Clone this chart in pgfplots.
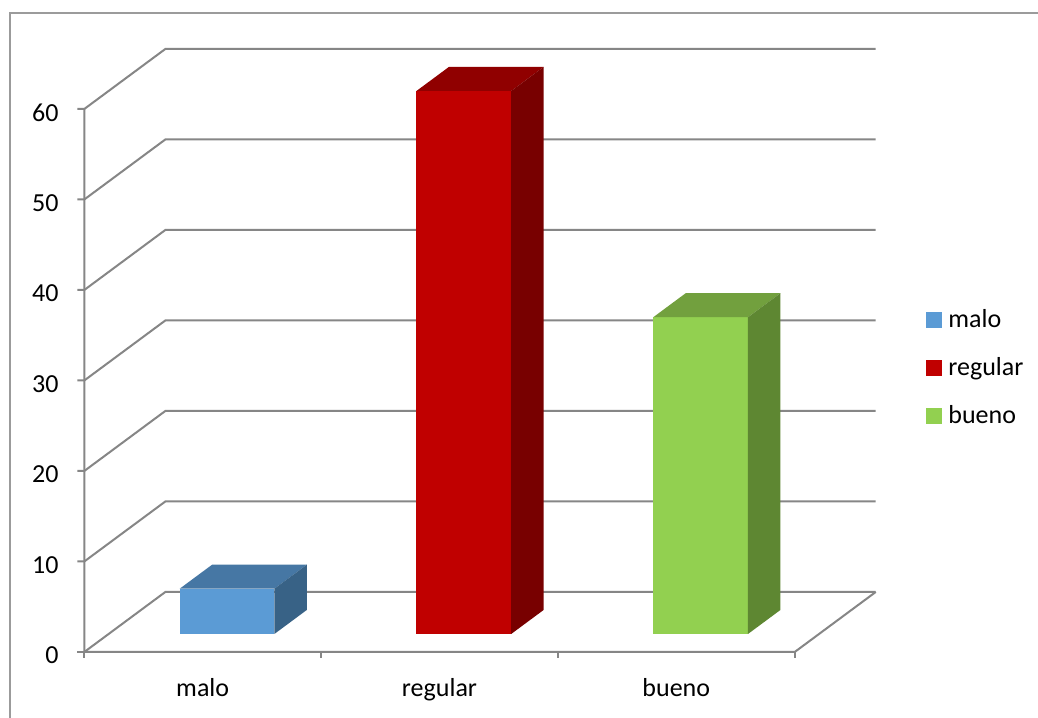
\documentclass[border=0pt]{standalone}
\usepackage{pgfplots}
\pgfplotsset{compat=1.18}
\usepackage{fontspec}
\setmainfont{Carlito}

\definecolor{gridgray}{RGB}{134,134,134}
\definecolor{framegray}{RGB}{155,155,155}
\definecolor{maloF}{RGB}{91,155,213}
\definecolor{maloT}{RGB}{70,119,164}
\definecolor{maloS}{RGB}{56,98,134}
\definecolor{regF}{RGB}{192,0,0}
\definecolor{regT}{RGB}{144,0,0}
\definecolor{regS}{RGB}{120,0,0}
\definecolor{buenoF}{RGB}{146,208,80}
\definecolor{buenoT}{RGB}{114,160,62}
\definecolor{buenoS}{RGB}{94,135,50}

\begin{document}
\begin{tikzpicture}
\useasboundingbox (-101.35pt,-32.5pt) rectangle (417.65pt,326pt);
\fill[white] (-101.35pt,-32.5pt) rectangle (417.65pt,326pt);
% chart area frame
\draw[framegray, line width=1pt] (-96.35pt,-40pt) -- (-96.35pt,319.5pt) -- (430pt,319.5pt);
\begin{axis}[
  at={(0pt,0pt)}, anchor=origin,
  % oblique projection: x = category, y = depth, z = value
  x={(118.4pt,0pt)}, y={(40.5pt,30pt)}, z={(0pt,4.525pt)},
  xmin=-0.5, xmax=2.5, ymin=0, ymax=1, zmin=0, zmax=60,
  hide axis, clip=false,
  font=\fontsize{13pt}{15pt}\selectfont,
  legend style={at={(axis cs:3.0545,0,37.87)}, anchor=north west,
    draw=none, fill=none, inner sep=0pt, outer sep=0pt,
    row sep=12.15pt, column sep=3.3pt,
    font=\fontsize{13pt}{15pt}\selectfont,
    nodes={inner sep=0pt, text height=9pt, text depth=3pt, anchor=base west}},
  grid line/.style={gridgray, line width=1pt, forget plot},
]
% walls: left-wall diagonals, back-wall gridlines and y ticks
\addplot3[grid line] coordinates {(-0.5296,0,10) (-0.5,0,10) (-0.5,1,10) (2.5,1,10)};
\addplot3[grid line] coordinates {(-0.5296,0,20) (-0.5,0,20) (-0.5,1,20) (2.5,1,20)};
\addplot3[grid line] coordinates {(-0.5296,0,30) (-0.5,0,30) (-0.5,1,30) (2.5,1,30)};
\addplot3[grid line] coordinates {(-0.5296,0,40) (-0.5,0,40) (-0.5,1,40) (2.5,1,40)};
\addplot3[grid line] coordinates {(-0.5296,0,50) (-0.5,0,50) (-0.5,1,50) (2.5,1,50)};
\addplot3[grid line] coordinates {(-0.5296,0,60) (-0.5,0,60) (-0.5,1,60) (2.5,1,60)};
\addplot3[grid line] coordinates {(-0.5,0,0) (-0.5,1,0) (2.5,1,0)};
% front axis and floor
\addplot3[grid line] coordinates {(-0.5,0,60) (-0.5,0,0) (2.5,0,0) (2.5,1,0)};
\addplot3[grid line] coordinates {(-0.5296,0,0) (-0.5,0,0)};
\addplot3[grid line] coordinates {(-0.5,0,0) (-0.5,0,-0.663)};
\addplot3[grid line] coordinates {(0.5,0,0) (0.5,0,-0.663)};
\addplot3[grid line] coordinates {(1.5,0,0) (1.5,0,-0.663)};
\addplot3[grid line] coordinates {(2.5,0,0) (2.5,0,-0.663)};

% malo = 5
\addplot3[fill=maloF, draw=none, forget plot] coordinates {(-0.2,0.3,0) (0.2,0.3,0) (0.2,0.3,5) (-0.2,0.3,5)} -- cycle;
\addplot3[fill=maloT, draw=none, forget plot] coordinates {(-0.2,0.3,5) (0.2,0.3,5) (0.2,0.7,5) (-0.2,0.7,5)} -- cycle;
\addplot3[fill=maloS, draw=none, forget plot] coordinates {(0.2,0.3,0) (0.2,0.7,0) (0.2,0.7,5) (0.2,0.3,5)} -- cycle;
% regular = 60
\addplot3[fill=regF, draw=none, forget plot] coordinates {(0.8,0.3,0) (1.2,0.3,0) (1.2,0.3,60) (0.8,0.3,60)} -- cycle;
\addplot3[fill=regT, draw=none, forget plot] coordinates {(0.8,0.3,60) (1.2,0.3,60) (1.2,0.7,60) (0.8,0.7,60)} -- cycle;
\addplot3[fill=regS, draw=none, forget plot] coordinates {(1.2,0.3,0) (1.2,0.7,0) (1.2,0.7,60) (1.2,0.3,60)} -- cycle;
% bueno = 35
\addplot3[fill=buenoF, draw=none, forget plot] coordinates {(1.8,0.3,0) (2.2,0.3,0) (2.2,0.3,35) (1.8,0.3,35)} -- cycle;
\addplot3[fill=buenoT, draw=none, forget plot] coordinates {(1.8,0.3,35) (2.2,0.3,35) (2.2,0.7,35) (1.8,0.7,35)} -- cycle;
\addplot3[fill=buenoS, draw=none, forget plot] coordinates {(2.2,0.3,0) (2.2,0.7,0) (2.2,0.7,35) (2.2,0.3,35)} -- cycle;

% value axis labels
\foreach \v in {0,10,20,30,40,50,60} {
  \edef\tmp{\noexpand\node[anchor=east, inner sep=0pt, xshift=-12.65pt, yshift=-1.75pt]
    at (axis cs:-0.5,0,\v) {\v};}\tmp
}
% category labels
\node[anchor=base, inner sep=0pt, yshift=-22.25pt] at (axis cs:0,0,0) {malo};
\node[anchor=base, inner sep=0pt, yshift=-22.25pt] at (axis cs:1,0,0) {regular};
\node[anchor=base, inner sep=0pt, yshift=-22.25pt] at (axis cs:2,0,0) {bueno};

\addlegendimage{legend image code/.code={\fill[maloF] (0pt,0pt) rectangle (7.5pt,7.5pt);}}
\addlegendentry{malo}
\addlegendimage{legend image code/.code={\fill[regF] (0pt,0pt) rectangle (7.5pt,7.5pt);}}
\addlegendentry{regular}
\addlegendimage{legend image code/.code={\fill[buenoF] (0pt,0pt) rectangle (7.5pt,7.5pt);}}
\addlegendentry{bueno}
\end{axis}
\end{tikzpicture}
\end{document}
